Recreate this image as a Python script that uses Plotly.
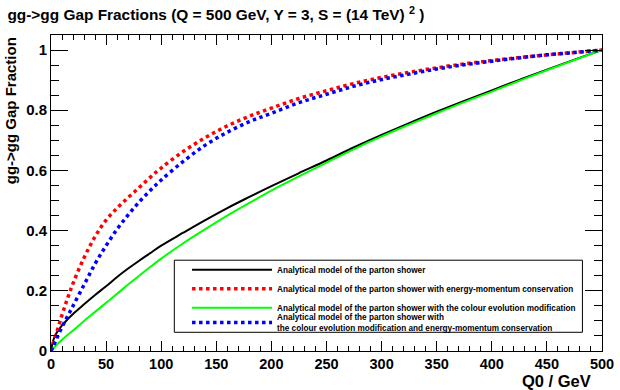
import plotly.graph_objects as go

q0 = [0, 2, 5, 10, 15, 20, 30, 40, 50, 60, 70, 80, 90, 100, 120, 140, 160, 180,
      200, 225, 250, 275, 300, 325, 350, 375, 400, 425, 450, 475, 500]

analytical = [0, 0.035, 0.06, 0.085, 0.105, 0.123, 0.155, 0.186, 0.215, 0.246,
              0.274, 0.30, 0.325, 0.35, 0.393, 0.435, 0.475, 0.512, 0.548, 0.591,
              0.633, 0.677, 0.718, 0.757, 0.795, 0.831, 0.866, 0.901, 0.935, 0.968, 1.0]

energy_mom = [0, 0.025, 0.06, 0.12, 0.175, 0.225, 0.31, 0.38, 0.435, 0.475,
              0.51, 0.543, 0.577, 0.608, 0.663, 0.709, 0.748, 0.78, 0.807, 0.839,
              0.865, 0.889, 0.909, 0.926, 0.941, 0.954, 0.965, 0.975, 0.984, 0.992, 1.0]

colour_evo = [0, 0.008, 0.02, 0.037, 0.053, 0.068, 0.1, 0.13, 0.16, 0.19,
              0.221, 0.25, 0.279, 0.307, 0.358, 0.405, 0.45, 0.492, 0.533, 0.58,
              0.626, 0.671, 0.713, 0.752, 0.79, 0.827, 0.862, 0.898, 0.933, 0.967, 1.0]

colour_evo_em = [0, 0.015, 0.04, 0.08, 0.115, 0.15, 0.22, 0.29, 0.35, 0.405,
                 0.452, 0.495, 0.533, 0.568, 0.63, 0.684, 0.727, 0.762, 0.79, 0.825,
                 0.853, 0.88, 0.902, 0.92, 0.937, 0.951, 0.963, 0.974, 0.984, 0.992, 1.0]

names = [
    "Analytical model of the parton shower",
    "Analytical model of the parton shower with energy-momentum conservation",
    "Analytical model of the parton shower with the colour evolution modification",
    "Analytical model of the parton shower with<br>the colour evolution modification and energy-momentum conservation",
]

FONT = "Liberation Sans"

# plot area in pixels: x 51..614, y 35..350.7
def px_x(p):
    return (p - 51) / 563


def px_y(p):
    return (350.7 - p) / 315.7


fig = go.Figure()
fig.add_trace(go.Scatter(x=q0, y=analytical, mode="lines", name=names[0],
                         line=dict(color="black", width=2, shape="spline")))
fig.add_trace(go.Scatter(x=q0, y=energy_mom, mode="lines", name=names[1],
                         line=dict(color="#ff0000", width=3.5, dash="dot", shape="spline")))
fig.add_trace(go.Scatter(x=q0, y=colour_evo, mode="lines", name=names[2],
                         line=dict(color="#00ff00", width=2, shape="spline")))
fig.add_trace(go.Scatter(x=q0, y=colour_evo_em, mode="lines", name=names[3],
                         legend="legend2",
                         line=dict(color="#0000ff", width=3.5, dash="dot", shape="spline")))

# legend frame
fig.add_shape(type="rect", xref="paper", yref="paper",
              x0=px_x(177), x1=px_x(594), y0=px_y(332), y1=px_y(260),
              line=dict(color="black", width=1), fillcolor="white", layer="above")

legend_font = dict(size=8.2, family=FONT, weight="bold")

fig.update_layout(
    width=620,
    height=390,
    margin=dict(l=51, r=6, t=35, b=39),
    paper_bgcolor="white",
    plot_bgcolor="white",
    font=dict(family=FONT, color="black"),
    title=dict(
        text="gg->gg Gap Fractions (Q = 500 GeV, Y = 3, S = (14 TeV) <sup>2</sup> )",
        x=0.012, xanchor="left", y=0.962, yanchor="middle",
        font=dict(size=15.4, family=FONT, weight="bold"),
    ),
    xaxis=dict(
        range=[0, 500], dtick=50, tick0=0,
        showline=True, linecolor="black", linewidth=1, mirror="allticks",
        ticks="inside", ticklen=10, tickcolor="black",
        minor=dict(dtick=10, ticks="inside", ticklen=5, tickcolor="black"),
        showgrid=False, zeroline=False, ticklabeloverflow="allow",
        tickfont=dict(size=14.5, family=FONT, weight="bold"),
    ),
    yaxis=dict(
        range=[0, 1.05], dtick=0.2, tick0=0,
        showline=True, linecolor="black", linewidth=1, mirror="allticks",
        ticks="inside", ticklen=17, tickcolor="black",
        minor=dict(dtick=0.05, ticks="inside", ticklen=8, tickcolor="black"),
        showgrid=False, zeroline=False,
        tickfont=dict(size=15, family=FONT, weight="bold"),
    ),
    legend=dict(
        x=px_x(190), xanchor="left", y=px_y(255), yanchor="top",
        bgcolor="rgba(0,0,0,0)", borderwidth=0,
        font=legend_font, itemwidth=80, tracegroupgap=0,
    ),
    legend2=dict(
        x=px_x(190), xanchor="left", y=px_y(305), yanchor="top",
        bgcolor="rgba(0,0,0,0)", borderwidth=0,
        font=legend_font, itemwidth=80, tracegroupgap=0,
    ),
    showlegend=True,
)

fig.add_annotation(
    text="Q0 / GeV",
    xref="paper", yref="paper", x=px_x(605), y=px_y(380.5),
    xanchor="right", yanchor="middle", showarrow=False,
    font=dict(size=16.5, family=FONT, weight="bold"),
)
fig.add_annotation(
    text="gg->gg Gap Fraction", textangle=-90,
    xref="paper", yref="paper", x=-0.073, y=1.0,
    xanchor="center", yanchor="top", showarrow=False,
    font=dict(size=15, family=FONT, weight="bold"),
)

fig.write_html("out.html", config={"displayModeBar": False},
               post_script="document.body.style.margin='0';")
